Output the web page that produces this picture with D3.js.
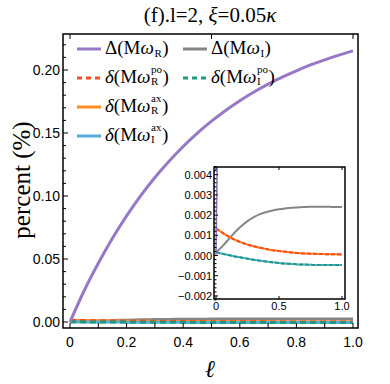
<!DOCTYPE html>
<html>
<head>
<meta charset="utf-8">
<script src="https://cdn.jsdelivr.net/npm/d3@7"></script>
<style>
  body { margin: 0; background: #fff; }
  svg { display: block; }
</style>
</head>
<body>
<div id="wrapper"></div>
<script>
// ell grid used by every series
const ell = [0, 0.05, 0.1, 0.15, 0.2, 0.25, 0.3, 0.35, 0.4, 0.45, 0.5,
             0.55, 0.6, 0.65, 0.7, 0.75, 0.8, 0.85, 0.9, 0.95, 1.0];

const dReal = [0, 0.0248, 0.0466, 0.0664, 0.0842, 0.1003, 0.1147, 0.1276, 0.1393, 0.1499, 0.1594,
               0.1679, 0.1756, 0.1825, 0.1888, 0.1944, 0.1994, 0.2040, 0.2081, 0.2118, 0.2152];
const dImag = [0.00015, 0.00045, 0.0008, 0.00115, 0.00145, 0.0017, 0.0019, 0.00205, 0.00215, 0.00223, 0.00229,
               0.00233, 0.00236, 0.00238, 0.0024, 0.00241, 0.00241, 0.00241, 0.00241, 0.0024, 0.0024];
const poReal = [0.00135, 0.00113, 0.00094, 0.00078, 0.00065, 0.00054, 0.00046, 0.00038, 0.00032, 0.00026, 0.00022,
                0.00018, 0.00015, 0.00012, 0.0001, 0.00009, 0.00008, 0.00007, 0.00006, 0.00006, 0.00005];
const poImag = [0.00016, 0.00009, 0.00002, -0.00005, -0.0001, -0.00016, -0.00021, -0.00026, -0.0003, -0.00034, -0.00037,
                -0.0004, -0.00042, -0.00044, -0.00045, -0.00046, -0.00047, -0.00047, -0.00047, -0.00047, -0.00047];
const axReal = [0.00135, 0.00113, 0.00094, 0.00078, 0.00065, 0.00054, 0.00046, 0.00038, 0.00032, 0.00026, 0.00022,
                0.00018, 0.00015, 0.00012, 0.0001, 0.00009, 0.00008, 0.00007, 0.00006, 0.00006, 0.00005];
const axImag = [0.00016, 0.00009, 0.00002, -0.00005, -0.0001, -0.00016, -0.00021, -0.00026, -0.0003, -0.00034, -0.00037,
                -0.0004, -0.00042, -0.00044, -0.00045, -0.00046, -0.00047, -0.00047, -0.00047, -0.00047, -0.00047];

const xTicks = [0, 0.2, 0.4, 0.6, 0.8, 1.0];
const yTicks = [0, 0.05, 0.1, 0.15, 0.2];
const insetXTicks = [0, 0.5, 1.0];
const insetYTicks = [-0.002, -0.001, 0, 0.001, 0.002, 0.003, 0.004];

// draw order: solid under dashed, purple on top
const series = [
  { key: "dI", values: dImag, color: "#858585", dash: null },
  { key: "axR", values: axReal, color: "#ff8c1f", dash: null },
  { key: "axI", values: axImag, color: "#55acd6", dash: null },
  { key: "poR", values: poReal, color: "#ff4b1c", dash: "6,4" },
  { key: "poI", values: poImag, color: "#1f9a7c", dash: "6,4" },
  { key: "dR", values: dReal, color: "#9679c6", dash: null }
];

const legendItems = [
  { key: "dR", head: "Δ", sub: "R", sup: null, col: 0, row: 0 },
  { key: "dI", head: "Δ", sub: "I", sup: null, col: 1, row: 0 },
  { key: "poR", head: "δ", sub: "R", sup: "po", col: 0, row: 1 },
  { key: "poI", head: "δ", sub: "I", sup: "po", col: 1, row: 1 },
  { key: "axR", head: "δ", sub: "R", sup: "ax", col: 0, row: 2 },
  { key: "axI", head: "δ", sub: "I", sup: "ax", col: 0, row: 3 }
];

const W = 390, H = 384;
const frame = { left: 63, right: 358, top: 34, bottom: 328 };
const inFrame = { left: 214, right: 345, top: 167, bottom: 299 };

const svg = d3.select("#wrapper").append("svg")
  .attr("width", W).attr("height", H);

const x = d3.scaleLinear().domain([0, 1]).range([70, 353]);
const y = d3.scaleLinear().domain([0, 0.2]).range([322, 70]);
const xi = d3.scaleLinear().domain([0, 1]).range([216, 342]);
const yi = d3.scaleLinear().domain([0, 0.004]).range([255.5, 174.7]);

const defs = svg.append("defs");
defs.append("clipPath").attr("id", "clipMain").append("rect")
  .attr("x", frame.left).attr("y", frame.top)
  .attr("width", frame.right - frame.left).attr("height", frame.bottom - frame.top);
defs.append("clipPath").attr("id", "clipInset").append("rect")
  .attr("x", inFrame.left).attr("y", inFrame.top)
  .attr("width", inFrame.right - inFrame.left).attr("height", inFrame.bottom - inFrame.top);

const sans = "'Liberation Sans', Arial, sans-serif";
const serif = "'Liberation Serif', 'Times New Roman', serif";

// title
const title = svg.append("text")
  .attr("x", 210).attr("y", 22)
  .attr("text-anchor", "middle")
  .style("font-family", serif).style("font-size", "21px");
title.append("tspan").text("(f).l=2, ");
title.append("tspan").style("font-style", "italic").text("ξ");
title.append("tspan").text("=0.05");
title.append("tspan").style("font-style", "italic").text("κ");

// main lines
const mainG = svg.append("g").attr("clip-path", "url(#clipMain)");
series.forEach(s => {
  const line = d3.line()
    .x((d, i) => x(ell[i]))
    .y(d => y(d))
    .curve(d3.curveMonotoneX);
  mainG.append("path")
    .attr("d", line(s.values))
    .attr("fill", "none")
    .attr("stroke", s.color)
    .attr("stroke-width", 3)
    .attr("stroke-dasharray", s.dash);
});

// main frame + ticks
svg.append("rect")
  .attr("x", frame.left).attr("y", frame.top)
  .attr("width", frame.right - frame.left).attr("height", frame.bottom - frame.top)
  .attr("fill", "none").attr("stroke", "#000").attr("stroke-width", 1.5);

const tickG = svg.append("g").attr("stroke", "#000").attr("stroke-width", 1);
d3.range(0, 1.0001, 0.1).forEach(t => {
  tickG.append("line").attr("x1", x(t)).attr("x2", x(t))
    .attr("y1", frame.bottom).attr("y2", frame.bottom - 5);
});
[0, 0.5, 1].forEach(t => {
  tickG.append("line").attr("x1", x(t)).attr("x2", x(t))
    .attr("y1", frame.top).attr("y2", frame.top + 5);
});
d3.range(0, 0.2201, 0.01).forEach(t => {
  const major = Math.abs(Math.round(t * 100) % 5) === 0;
  tickG.append("line").attr("x1", frame.left).attr("x2", frame.left + (major ? 5 : 3))
    .attr("y1", y(t)).attr("y2", y(t));
});

svg.append("g").selectAll("text").data(xTicks).join("text")
  .attr("x", d => x(d)).attr("y", 347)
  .attr("text-anchor", "middle")
  .style("font-family", sans).style("font-size", "14px")
  .text(d => d === 0 ? "0" : d3.format(".1f")(d));

svg.append("g").selectAll("text").data(yTicks).join("text")
  .attr("x", 60).attr("y", d => y(d) + 5)
  .attr("text-anchor", "end")
  .style("font-family", sans).style("font-size", "14px")
  .text(d => d3.format(".2f")(d));

// axis labels
svg.append("text")
  .attr("transform", "translate(30,180) rotate(-90)")
  .attr("text-anchor", "middle")
  .style("font-family", serif).style("font-size", "25px")
  .text("percent (%)");

svg.append("text")
  .attr("x", 210).attr("y", 377)
  .attr("text-anchor", "middle")
  .style("font-family", serif).style("font-size", "24px").style("font-style", "italic")
  .text("ℓ");

// inset
svg.append("rect")
  .attr("x", inFrame.left).attr("y", inFrame.top)
  .attr("width", inFrame.right - inFrame.left).attr("height", inFrame.bottom - inFrame.top)
  .attr("fill", "#fff");

const insetG = svg.append("g").attr("clip-path", "url(#clipInset)");
series.forEach(s => {
  const line = d3.line()
    .x((d, i) => xi(ell[i]))
    .y(d => yi(d))
    .curve(d3.curveMonotoneX);
  insetG.append("path")
    .attr("d", line(s.values))
    .attr("fill", "none")
    .attr("stroke", s.color)
    .attr("stroke-width", s.key === "dR" ? 1.6 : 2)
    .attr("stroke-dasharray", s.dash ? "4,2" : null);
});

svg.append("rect")
  .attr("x", inFrame.left).attr("y", inFrame.top)
  .attr("width", inFrame.right - inFrame.left).attr("height", inFrame.bottom - inFrame.top)
  .attr("fill", "none").attr("stroke", "#000").attr("stroke-width", 1.5);

const inTick = svg.append("g").attr("stroke", "#000").attr("stroke-width", 1);
insetXTicks.forEach(t => {
  inTick.append("line").attr("x1", xi(t)).attr("x2", xi(t))
    .attr("y1", inFrame.bottom).attr("y2", inFrame.bottom - 3);
  inTick.append("line").attr("x1", xi(t)).attr("x2", xi(t))
    .attr("y1", inFrame.top).attr("y2", inFrame.top + 3);
});
d3.range(-0.0022, 0.00441, 0.0002).forEach(t => {
  const major = Math.abs(Math.round(t * 10000)) % 10 === 0;
  inTick.append("line").attr("x1", inFrame.left).attr("x2", inFrame.left + (major ? 4 : 2.5))
    .attr("y1", yi(t)).attr("y2", yi(t));
});

svg.append("g").selectAll("text").data(insetXTicks).join("text")
  .attr("x", d => xi(d)).attr("y", 310)
  .attr("text-anchor", "middle")
  .style("font-family", sans).style("font-size", "11px")
  .text(d => d === 0 ? "0" : d3.format(".1f")(d));

svg.append("g").selectAll("text").data(insetYTicks).join("text")
  .attr("x", 212).attr("y", d => yi(d) + 4)
  .attr("text-anchor", "end")
  .style("font-family", sans).style("font-size", "11px")
  .text(d => d3.format(".3f")(d).replace("-", "\u2212"));

// legend: one text element per entry, sup/sub stacked with tspans
const colX = [77, 183];
const rowY = [49, 78, 107, 136];
const colorOf = k => series.find(s => s.key === k);
const legend = svg.append("g");

function measure(str, size) {
  const t = svg.append("text").style("font-family", serif).style("font-size", size).text(str);
  const w = t.node().getComputedTextLength();
  t.remove();
  return w;
}

legendItems.forEach(it => {
  const s = colorOf(it.key);
  const lx = colX[it.col], ly = rowY[it.row];
  legend.append("line")
    .attr("x1", lx).attr("x2", lx + 24).attr("y1", ly).attr("y2", ly)
    .attr("stroke", s.color).attr("stroke-width", 3)
    .attr("stroke-dasharray", s.dash ? "5,4" : null);
  const txt = legend.append("text").attr("x", lx + 28).attr("y", ly + 5)
    .style("font-family", serif).style("font-size", "19px");
  txt.append("tspan").style("font-style", it.head === "δ" ? "italic" : "normal").text(it.head);
  txt.append("tspan").text("(M");
  txt.append("tspan").style("font-style", "italic").text("ω");
  const subW = measure(it.sub, "11px");
  if (it.sup) {
    const supW = measure(it.sup, "11px");
    txt.append("tspan").attr("dx", 0.5).attr("dy", -10.5).style("font-size", "11px").text(it.sup);
    txt.append("tspan").attr("dx", -supW).attr("dy", 12.5).style("font-size", "11px").text(it.sub);
    txt.append("tspan").attr("dx", Math.max(0, supW - subW) + 0.5).attr("dy", -2).text(")");
  } else {
    txt.append("tspan").attr("dx", 0.5).attr("dy", 3).style("font-size", "11px").text(it.sub);
    txt.append("tspan").attr("dx", 0.5).attr("dy", -3).text(")");
  }
});
</script>
</body>
</html>
